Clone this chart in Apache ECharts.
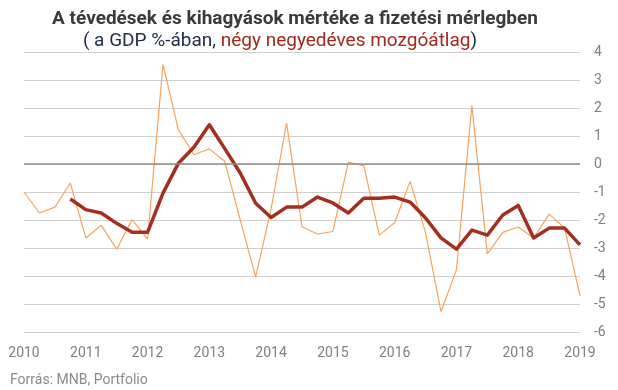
<!DOCTYPE html>
<html>
<head>
<meta charset="utf-8">
<script src="https://cdn.jsdelivr.net/npm/echarts@6/dist/echarts.min.js"></script>
<style>html,body{margin:0;padding:0;background:#fff}#c{width:618px;height:390px}</style>
</head>
<body>
<div id="c"></div>
<script>
var quarters = [];
var years = ['2010','2011','2012','2013','2014','2015','2016','2017','2018','2019'];
years.forEach(function(y, i){
  var n = (i === years.length - 1) ? 1 : 4;
  for (var q = 1; q <= n; q++) quarters.push(y + ' Q' + q);
});
var quarterly = [-1.0, -1.75, -1.54, -0.68, -2.64, -2.19, -3.04, -1.99, -2.68, 3.55, 1.22, 0.33, 0.54, 0.10, -2.0, -4.04, -1.6, 1.46, -2.24, -2.5, -2.41, 0.06, -0.06, -2.54, -2.1, -0.62, -2.45, -5.27, -3.78, 2.09, -3.21, -2.44, -2.25, -2.64, -1.79, -2.28, -4.70];
var movingAvg = [null, null, null, -1.25, -1.63, -1.75, -2.12, -2.44, -2.44, -1.04, 0.03, 0.6, 1.4, 0.55, -0.32, -1.4, -1.91, -1.54, -1.54, -1.18, -1.39, -1.75, -1.22, -1.22, -1.18, -1.36, -1.93, -2.64, -3.04, -2.36, -2.54, -1.82, -1.48, -2.64, -2.29, -2.29, -2.89];
var yTicks = {min: -6, max: 4, interval: 1};

var FONT = 'Roboto';
var chart = echarts.init(document.getElementById('c'), null, {renderer: 'canvas'});
chart.setOption({
  animation: false,
  textStyle: {fontFamily: FONT},
  title: [
    {text: 'A tévedések és kihagyások mértéke a fizetési mérlegben', left: 290, top: 5, textAlign: 'center',
     textStyle: {fontFamily: FONT, fontSize: 19, fontWeight: 'bold', color: '#3a3a3a'}},
    {text: '( a GDP %-ában, {r|négy negyedéves mozgóátlag})', left: 275, top: 27, textAlign: 'center',
     textStyle: {fontFamily: FONT, fontSize: 19, fontWeight: 'normal', color: '#22304a',
       rich: {r: {fontFamily: FONT, fontSize: 19, color: '#a3281c'}}}},
    {text: 'Forrás: MNB, Portfolio', left: 5, top: 368,
     textStyle: {fontFamily: FONT, fontSize: 14, fontWeight: 'normal', color: '#8a8a8a'}}
  ],
  grid: {left: 24, right: 38, top: 52, bottom: 58, containLabel: false},
  xAxis: {
    type: 'category', data: quarters, boundaryGap: false,
    axisLine: {show: false}, axisTick: {show: false},
    axisLabel: {interval: 3, color: '#808080', fontSize: 14, margin: 14, fontFamily: FONT,
      formatter: function(v){ return v.slice(0, 4); }},
    splitLine: {show: false}
  },
  yAxis: {
    type: 'value', position: 'right', min: yTicks.min, max: yTicks.max, interval: yTicks.interval,
    axisLine: {show: false}, axisTick: {show: false},
    axisLabel: {color: '#808080', fontSize: 14, margin: 14, fontFamily: FONT},
    splitLine: {lineStyle: {color: '#d0d0d0', width: 1}}
  },
  series: [
    {type: 'line', data: quarterly, symbol: 'none', z: 3,
     lineStyle: {color: '#f7a35a', width: 1.2},
     markLine: {silent: true, symbol: 'none', label: {show: false},
       lineStyle: {color: '#8c8c8c', width: 1.5, type: 'solid'}, data: [{yAxis: 0}]}},
    {type: 'line', data: movingAvg, symbol: 'none', z: 4,
     lineStyle: {color: '#a3301e', width: 3.5, join: 'round'}}
  ]
});
</script>
</body>
</html>
